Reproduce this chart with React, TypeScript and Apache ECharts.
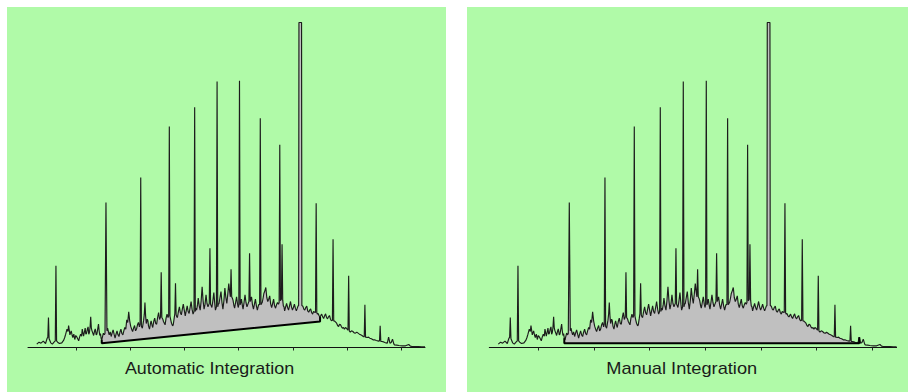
import React, { useEffect, useRef } from "react";
import * as echarts from "echarts";

// Chromatogram signal: [scan, intensity]
const SIGNAL_EARLY: number[][] = [
  [47, 10], [54, 16], [60, 13], [67, 19], [74, 12], [79, 28], [81, 30], [83, 90], [85, 26], [90, 14],
  [95, 10], [100, 16], [104, 20], [106, 245], [108, 20], [112, 15], [117, 12], [124, 14], [130, 22],
  [133, 30], [136, 40], [140, 55], [143, 48], [145, 66], [149, 38], [153, 50], [156, 36], [158, 30],
  [161, 40], [164, 24], [167, 36], [170, 32], [173, 26], [176, 20], [179, 32], [182, 40], [185, 34],
  [187, 55], [191, 34], [194, 48], [196, 58], [198, 40], [200, 42], [203, 56], [205, 62], [207, 40],
  [209, 45], [211, 60], [213, 92], [215, 58], [217, 50], [220, 42], [222, 36], [225, 50], [227, 56],
  [230, 38], [232, 40], [235, 58], [237, 70], [239, 50], [241, 36], [243, 42], [245, 28], [247, 23],
];

const SIGNAL_MIDDLE: number[][] = [
  [250, 35], [252, 43], [255, 38], [257, 42], [260, 435], [263, 50], [265, 58], [268, 45], [270, 38],
  [273, 47], [276, 33], [279, 44], [282, 53], [285, 40], [288, 28], [291, 40], [294, 50], [297, 38],
  [300, 33], [303, 46], [306, 55], [309, 42], [312, 38], [315, 50], [318, 60], [321, 55], [324, 83],
  [327, 75], [330, 107], [333, 80], [336, 64], [339, 55], [342, 48], [345, 58], [348, 66], [351, 50],
  [354, 55], [357, 68], [360, 75], [363, 62], [365, 70], [367, 510], [369, 64], [372, 58], [374, 70],
  [376, 82], [378, 100], [380, 135], [382, 95], [384, 72], [387, 85], [389, 80], [391, 64], [394, 55],
  [397, 72], [399, 80], [402, 66], [404, 60], [407, 78], [410, 88], [413, 72], [416, 70], [419, 90],
  [422, 105], [425, 84], [428, 92], [430, 226], [432, 90], [435, 85], [437, 78], [440, 72], [442, 68],
  [445, 88], [448, 100], [451, 90], [453, 95], [455, 663], [457, 94], [460, 80], [462, 72], [465, 65],
  [467, 68], [470, 88], [472, 102], [474, 193], [476, 98], [478, 92],
  [480, 90], [483, 108], [486, 122], [489, 104], [492, 98], [495, 115], [498, 130], [501, 112],
  [504, 95], [507, 110], [510, 125], [513, 108], [516, 102], [519, 120], [522, 138], [525, 115],
  [528, 100], [531, 108], [533, 721], [535, 108], [537, 118], [539, 112], [542, 130], [544, 148],
  [547, 125], [550, 112], [553, 140], [556, 182], [559, 140], [562, 115], [565, 130], [568, 158],
  [571, 132], [574, 122], [577, 130], [578, 132], [580, 298], [582, 130], [584, 125], [586, 120],
  [589, 140], [592, 165], [595, 130], [597, 112], [600, 122], [602, 798], [604, 122], [606, 130],
  [608, 132], [611, 150], [614, 168], [617, 135], [620, 115], [623, 140], [626, 178], [629, 150],
  [632, 132], [635, 160], [638, 192], [641, 165], [643, 152], [645, 235], [647, 152], [649, 148],
  [651, 142], [654, 125], [656, 118], [659, 135], [662, 152], [665, 130], [667, 120], [669, 128],
  [671, 800], [673, 128], [675, 135], [677, 145], [680, 125], [682, 115], [685, 135], [688, 158],
  [691, 135], [694, 122], [697, 130], [700, 138], [702, 283], [704, 138], [706, 145], [708, 152],
  [711, 128], [714, 115], [717, 130], [720, 145], [723, 125], [726, 112], [729, 125], [731, 130],
  [733, 128], [735, 688], [737, 128], [739, 132], [741, 135], [744, 150], [746, 162], [749, 170],
  [752, 180], [755, 150], [758, 138], [761, 145], [764, 155], [767, 130], [770, 120], [773, 132],
  [776, 145], [779, 125], [782, 118], [785, 128], [788, 135], [791, 130], [793, 135], [795, 608],
  [797, 140], [800, 145], [802, 310], [804, 142], [806, 125], [808, 122], [810, 110], [813, 122],
  [816, 132], [819, 120], [822, 112], [825, 125], [828, 138], [831, 122], [834, 112], [837, 120],
  [840, 130], [843, 118], [846, 110], [849, 118], [851, 124], [853, 126], [854, 975], [862, 975],
  [863, 126], [866, 124], [869, 115], [872, 112], [875, 120], [878, 124], [881, 110], [884, 106],
  [887, 112], [890, 116], [893, 105], [896, 100], [899, 108], [902, 106], [905, 105], [907, 433],
  [909, 104], [911, 100], [913, 102], [916, 95], [919, 92],
];

const SIGNAL_LATE: number[][] = [
  [922, 97], [924, 100], [927, 92], [930, 87], [933, 95], [936, 101], [939, 90], [942, 86], [945, 92],
  [948, 96], [951, 85], [954, 80], [957, 82], [959, 325], [961, 80], [964, 79], [967, 76], [970, 73],
  [973, 66], [976, 63], [979, 70], [982, 68], [985, 62], [988, 58], [991, 60], [994, 55], [997, 60],
  [1000, 58], [1003, 54], [1005, 52], [1007, 215], [1009, 50], [1012, 46], [1016, 50], [1020, 48],
  [1024, 44], [1028, 43], [1032, 46], [1036, 43], [1040, 40], [1044, 38], [1048, 36], [1052, 33],
  [1055, 32], [1057, 128], [1059, 31], [1064, 30], [1068, 31], [1072, 28], [1077, 26], [1082, 23],
  [1087, 23], [1092, 21], [1097, 20], [1100, 19], [1102, 20], [1104, 65], [1106, 18], [1110, 18],
  [1114, 17], [1118, 15], [1122, 14], [1126, 13], [1130, 31], [1134, 13], [1138, 15], [1142, 25],
  [1146, 11], [1148, 8], [1155, 7], [1162, 6], [1172, 5], [1182, 5], [1192, 9], [1197, 4], [1202, 3],
  [1212, 3], [1222, 3], [1232, 2], [1242, 2],
];

const SIGNAL: number[][] = [...SIGNAL_EARLY, ...SIGNAL_MIDDLE, ...SIGNAL_LATE];

const SCAN_MIN = 20;
const SCAN_MAX = 1242;
const INTENSITY_MAX = 1020;
const TICK_VALUES = [167, 334, 501, 668, 835, 1002, 1169];

// Integration windows and baselines (drop line, baseline, drop line)
const AUTO_WINDOW = [247, 919];
const AUTO_BASE = [13, 78];
const AUTO_BASELINE: number[][] = [[247, 23], [247, 13], [919, 78], [919, 92]];
const MANUAL_WINDOW = [245, 1130];
const MANUAL_BASE = [13, 13];
const MANUAL_BASELINE: number[][] = [[245, 28], [245, 13], [1130, 13], [1130, 31]];

const TITLES = ["Automatic Integration", "Manual Integration"];

const PANEL_GREEN = "#b0faa8";

function makeFill(win: number[], base: number[]) {
  return (params: any, api: any) => {
    const pts: number[][] = SIGNAL.filter((p) => p[0] >= win[0] && p[0] <= win[1]).map((p) =>
      api.coord(p)
    );
    pts.push(api.coord([win[1], base[1]]));
    pts.push(api.coord([win[0], base[0]]));
    return {
      type: "polygon",
      shape: { points: pts },
      style: { fill: "#c0c0c0", stroke: "none" },
    };
  };
}

export default function App() {
  const ref = useRef<HTMLDivElement>(null);
  useEffect(() => {
    if (!ref.current) return;
    const chart = echarts.init(ref.current, undefined, { renderer: "svg" });
    const xAxisBase = (gridIndex: number) => ({
      type: "value",
      gridIndex,
      min: SCAN_MIN,
      max: SCAN_MAX,
      axisLine: { show: true, onZero: false, lineStyle: { color: "#111", width: 1 } },
      axisTick: {
        show: true,
        customValues: TICK_VALUES,
        length: 3,
        inside: false,
        lineStyle: { color: "#222", width: 1 },
      },
      axisLabel: { show: false },
      splitLine: { show: false },
    });
    const yAxisBase = (gridIndex: number) => ({
      type: "value",
      gridIndex,
      min: 0,
      max: INTENSITY_MAX,
      show: false,
      splitLine: { show: false },
    });
    const panelSeries = (i: number, win: number[], base: number[], baseline: number[][]) => [
      {
        type: "custom",
        xAxisIndex: i,
        yAxisIndex: i,
        z: 1,
        clip: false,
        data: [[win[0], 0]],
        renderItem: makeFill(win, base),
        silent: true,
      },
      {
        type: "line",
        xAxisIndex: i,
        yAxisIndex: i,
        z: 2,
        data: SIGNAL,
        symbol: "none",
        showSymbol: false,
        lineStyle: { color: "#1c1c1c", width: 1.15 },
        silent: true,
      },
      {
        type: "line",
        xAxisIndex: i,
        yAxisIndex: i,
        z: 3,
        data: baseline,
        symbol: "none",
        showSymbol: false,
        lineStyle: { color: "#000", width: 2 },
        silent: true,
      },
    ];
    chart.setOption({
      animation: false,
      backgroundColor: "#ffffff",
      grid: [
        { left: 28, top: 7.5, width: 397, height: 340 },
        { left: 489.3, top: 7.5, width: 407.3, height: 340 },
      ],
      xAxis: [xAxisBase(0), xAxisBase(1)],
      yAxis: [yAxisBase(0), yAxisBase(1)],
      graphic: [
        { type: "rect", z: 0, shape: { x: 7, y: 7, width: 439, height: 385 }, style: { fill: PANEL_GREEN } },
        { type: "rect", z: 0, shape: { x: 467, y: 7, width: 441, height: 385 }, style: { fill: PANEL_GREEN } },
        {
          type: "text",
          z: 10,
          x: 209.5,
          y: 368.5,
          scaleX: 1.12,
          style: {
            text: TITLES[0],
            fill: "#1a1a1a",
            font: '16px "Liberation Sans", Arial, sans-serif',
            textAlign: "center",
            textVerticalAlign: "middle",
          },
        },
        {
          type: "text",
          z: 10,
          x: 681.7,
          y: 368.5,
          scaleX: 1.14,
          style: {
            text: TITLES[1],
            fill: "#1a1a1a",
            font: '16px "Liberation Sans", Arial, sans-serif',
            textAlign: "center",
            textVerticalAlign: "middle",
          },
        },
      ],
      series: [
        ...panelSeries(0, AUTO_WINDOW, AUTO_BASE, AUTO_BASELINE),
        ...panelSeries(1, MANUAL_WINDOW, MANUAL_BASE, MANUAL_BASELINE),
      ],
    });
    return () => chart.dispose();
  }, []);
  return (
    <div
      ref={ref}
      style={{ position: "absolute", left: 0, top: 0, width: 908, height: 392 }}
    />
  );
}
